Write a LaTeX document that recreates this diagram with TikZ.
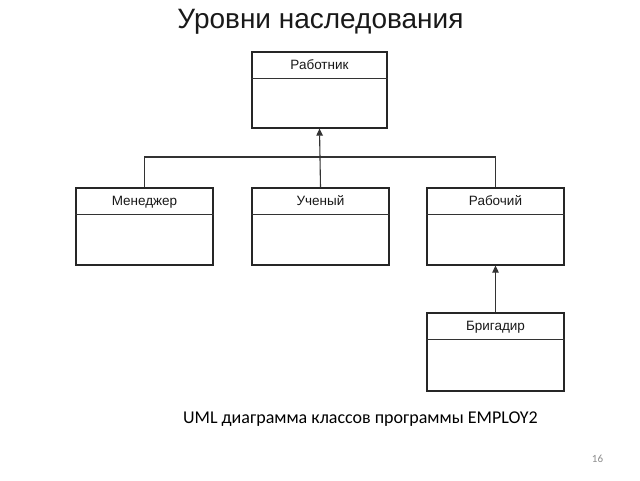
\documentclass[tikz,border=0pt]{standalone}
\usepackage{fontspec}
\setmainfont{Liberation Sans}
\newfontfamily\calibri{Carlito}
\usetikzlibrary{arrows.meta,calc}
\begin{document}
\begin{tikzpicture}[x=1pt,y=-1pt,
  classbox/.style={draw=black!85,line width=1.2pt,minimum width=137pt,minimum height=77pt,inner sep=0pt,fill=white},
  classname/.style={font=\fontsize{13.5}{15}\selectfont,text=black!90,inner sep=0pt,anchor=base},
  conn/.style={draw=black!80,line width=1.1pt},
  inherit/.style={conn,-{Triangle[width=6.5pt,length=7pt]}}]
\useasboundingbox (0,0) rectangle (640,480);
\node[font=\fontsize{28}{32}\selectfont,anchor=base,text=black!90] (title) at (320.5,28) {Уровни наследования};
% boxes
\node[classbox,minimum width=135pt,minimum height=76pt] (top) at (319.5,90) {};
\node[classbox] (mgr) at (144.5,226.5) {};
\node[classbox] (sci) at (320.5,226.5) {};
\node[classbox] (wrk) at (495.5,226.5) {};
\node[classbox,minimum height=78pt] (brg) at (495.5,352) {};
% dividers
\foreach \b in {top,mgr,sci,wrk,brg}{
  \draw[conn] ($(\b.north west)+(0,27)$) -- ($(\b.north east)+(0,27)$);
}
% names
\node[classname] (ntop) at ($(top.north)+(0,18)$) {Работник};
\node[classname] (nmgr) at ($(mgr.north)+(0,18)$) {Менеджер};
\node[classname] (nsci) at ($(sci.north)+(0,18)$) {Ученый};
\node[classname] (nwrk) at ($(wrk.north)+(0,18)$) {Рабочий};
\node[classname] (nbrg) at ($(brg.north)+(0,18)$) {Бригадир};
% connectors
\coordinate (bus) at (0,157);
\draw[conn] (mgr.north) -- (mgr.north |- bus) -- (wrk.north |- bus) -- (wrk.north);
\draw[inherit] (sci.north) -- (top.south);
\draw[inherit] (brg.north) -- (wrk.south);
% caption
\node[font=\calibri\fontsize{18}{21}\selectfont,anchor=base] (cap) at (360.5,423) {UML диаграмма классов программы EMPLOY2};
\node[font=\calibri\fontsize{11}{13}\selectfont,text=black!45,anchor=base] (pg) at (597.5,462) {16};
\end{tikzpicture}
\end{document}
